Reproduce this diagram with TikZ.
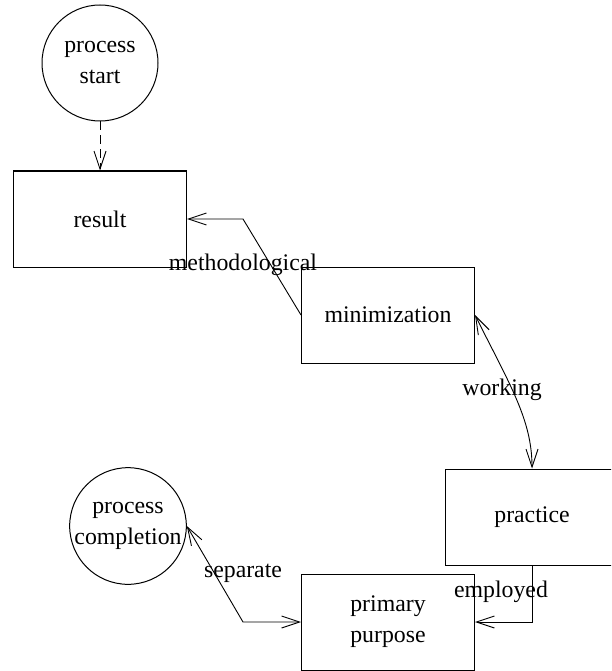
\documentclass[tikz,border=0pt]{standalone}
\usepackage{fontspec}
\setmainfont{Liberation Serif}
\usetikzlibrary{arrows.meta}
\begin{document}
\begin{tikzpicture}[x=1pt,y=-1pt,
  every node/.style={font=\fontsize{23.8}{31}\selectfont},
  box/.style={draw,line width=1pt,rectangle,minimum width=173pt,minimum height=96pt,inner sep=0pt},
  circ/.style={draw,line width=1pt,circle,minimum size=116pt,inner sep=0pt,align=center},
  lab/.style={inner sep=0pt},
  conn/.style={line width=0.9pt},
  >={Straight Barb[length=18pt,width=12pt]}]
\clip (0,0) rectangle (611,671);
\node[circ] (start) at (100,63) {process\\start};
\node[box] (result) at (100,219) {result};
\node[box] (min) at (388,315) {minimization};
\node[box] (practice) at (532,517) {practice};
\node[box,align=center] (primary) at (388,622) {primary\\purpose};
\node[circ] (completion) at (128,526) {process\\completion};
\coordinate (m1) at (243,219);
\coordinate (s1) at (243,622);
\draw[conn,->,dash pattern=on 9pt off 5pt] (start) -- (result);
\draw[conn,->] (min.west) -- (m1) -- (result.east);
\node[lab] (lmeth) at (243,265) {methodological};
\draw[conn,<->] (min.east) .. controls (510,385) and (532,420) .. (practice.north);
\node[lab] (lwork) at (502,390) {working};
\draw[conn,->] (practice.south) |- (primary.east);
\node[lab] (lemp) at (501,592) {employed};
\draw[conn,<->] (completion.east) -- (s1) -- (primary.west);
\node[lab] (lsep) at (243,573) {separate};
\end{tikzpicture}
\end{document}
